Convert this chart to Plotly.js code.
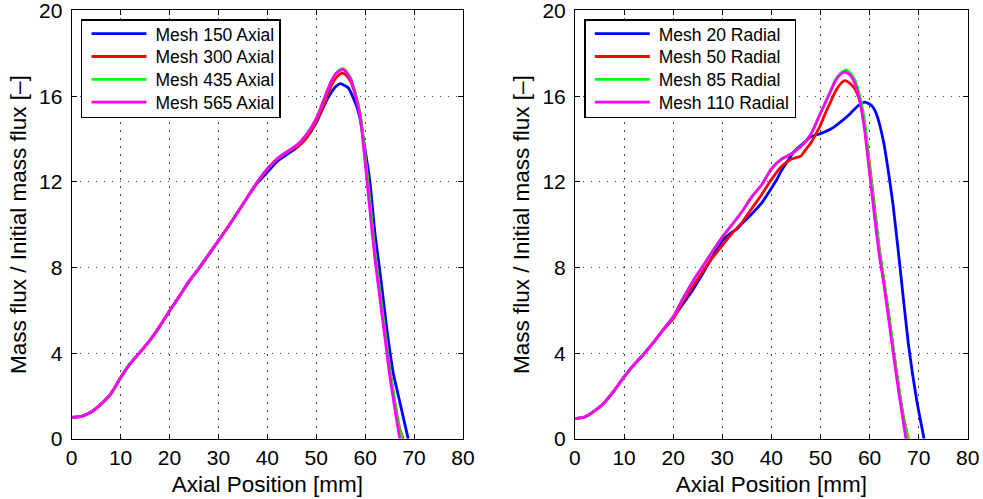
<!DOCTYPE html>
<html>
<head>
<meta charset="utf-8">
<script src="https://cdn.plot.ly/plotly-3.0.1.min.js"></script>
<style>html,body{margin:0;padding:0;background:#fff;}#chart{width:983px;height:499px;}</style>
</head>
<body>
<div id="chart"></div>
<script>
// ---- Left panel (axial mesh study) ----
const xMesh150 = [0,2,4,6,8,10,12,14,16,18,20,22,24,26,28,30,32,34,36,38,40,42,44,46,48,50,51,52,53,54,54.9,55.8,56.6,57.5,58.3,59,60,61,62,62.7,63.5,64.5,65.8,66.5,67.2,68,68.8];
const yMesh150 = [1.0,1.05,1.25,1.62,2.1,2.85,3.52,4.05,4.6,5.25,5.97,6.65,7.35,7.95,8.6,9.25,9.9,10.6,11.3,11.95,12.45,12.95,13.28,13.6,14.05,14.75,15.25,15.75,16.15,16.45,16.58,16.5,16.38,15.95,15.5,14.9,13.5,11.95,9.6,8.37,6.9,5.0,3.0,2.3,1.6,0.8,0];

const xMesh300 = [0,2,4,6,8,10,12,14,16,18,20,22,24,26,28,30,32,34,36,38,40,42,44,46,47,48,49,50,51,52,53,54,55,55.4,56,57,58,59,60,61,62,63,64,65,66,67,67.8];
const yMesh300 = [1.0,1.05,1.25,1.62,2.1,2.85,3.52,4.05,4.6,5.25,5.97,6.65,7.35,7.95,8.6,9.25,9.9,10.6,11.3,12.0,12.6,13.05,13.38,13.62,13.8,14.05,14.4,14.8,15.3,15.85,16.45,16.85,17.05,17.08,17.0,16.7,16.05,15.1,13.2,11.0,8.7,6.9,5.1,3.3,1.8,0.5,0];

const xMesh435 = [0,2,4,6,8,10,12,14,16,18,20,22,24,26,28,30,32,34,36,38,40,42,44,46,48,50,51,52,53,54,55,55.5,56,57,58,59,60,61,62,63,64,65,66,67,67.7];
const yMesh435 = [1.0,1.05,1.25,1.62,2.1,2.85,3.52,4.05,4.6,5.25,5.97,6.65,7.35,7.95,8.6,9.25,9.9,10.6,11.3,12.0,12.6,13.08,13.4,13.7,14.2,14.95,15.5,16.1,16.65,17.05,17.25,17.28,17.2,16.85,16.15,15.15,13.2,11.0,8.7,6.9,5.1,3.3,1.8,0.4,0];

const xMesh565 = [0,2,4,6,8,10,12,14,16,18,20,22,24,26,28,30,32,34,36,38,40,42,44,46,48,50,51,52,53,54,55,55.5,56,57,58,59,60,61,62,63,64,65,66,67,67.1];
const yMesh565 = [1.0,1.05,1.25,1.62,2.1,2.85,3.52,4.05,4.6,5.25,5.97,6.65,7.35,7.95,8.6,9.25,9.9,10.6,11.3,12.0,12.6,13.08,13.4,13.7,14.2,14.95,15.5,16.1,16.65,17.05,17.22,17.25,17.15,16.8,16.05,15.0,12.9,10.6,8.4,6.6,4.8,3.0,1.5,0.1,0];

// ---- Right panel (radial mesh study) ----
const xMesh20 = [0,2,4,6,8,10,12,14,16,18,20,22,24,26,28,30,32,33,34,36,38,40,41,42,43.4,44.5,46,47.2,48,50,52,54,56,57.7,59.1,60.4,61.4,62.8,63.8,64.8,66.2,67.9,69.6,71.1];
const yMesh20 = [0.94,1.02,1.3,1.7,2.25,2.89,3.45,3.95,4.5,5.1,5.65,6.3,6.95,7.7,8.5,9.25,9.65,9.8,10.05,10.5,11.0,11.7,12.06,12.5,13.0,13.38,13.7,13.93,14.1,14.25,14.45,14.78,15.17,15.56,15.72,15.56,15.17,13.93,12.53,10.9,8.02,4.44,1.8,0];

const xMesh50 = [0,2,4,6,8,10,12,14,16,18,20,22,24,26,28,30,32,34,36,38,40,42,44,46,47,48,49,50,51,52,53,54,55,56,57,58,59,60,61,62,63,64,65,66,67,67.9];
const yMesh50 = [0.94,1.02,1.3,1.7,2.25,2.89,3.45,3.95,4.5,5.1,5.6,6.4,7.1,7.8,8.45,9.03,9.6,10.1,10.75,11.4,12.1,12.7,13.05,13.2,13.5,13.8,14.2,14.65,15.2,15.7,16.2,16.55,16.72,16.6,16.34,15.8,14.6,12.8,10.8,8.8,7.2,5.6,3.9,2.3,0.9,0];

const xMesh85 = [0,2,4,6,8,10,12,14,16,18,20,22,24,26,28,30,32,34,36,38,40,42,44,46,48,50,51,52,53,54,55,55.3,56,57,58,59,60,61,62,63,64,65,66,67,67.9];
const yMesh85 = [0.94,1.02,1.3,1.7,2.25,2.89,3.45,3.95,4.5,5.1,5.7,6.55,7.35,8.05,8.75,9.42,10.0,10.6,11.3,11.85,12.6,13.05,13.3,13.65,14.2,15.2,15.7,16.2,16.75,17.05,17.2,17.22,17.1,16.75,16.0,14.8,12.7,10.7,8.8,7.3,5.7,3.9,2.3,0.8,0];

const xMesh110 = [0,2,4,6,8,10,12,14,16,18,20,22,24,26,28,30,32,34,36,38,40,42,44,46,48,50,51,52,53,54,55,56,57,58,59,60,61,62,63,64,65,66,67,67.4];
const yMesh110 = [0.94,1.02,1.3,1.7,2.25,2.89,3.45,3.95,4.5,5.1,5.7,6.55,7.35,8.05,8.75,9.42,10.0,10.6,11.3,11.85,12.6,13.05,13.3,13.65,14.2,15.2,15.7,16.2,16.7,17.0,17.12,17.0,16.6,15.8,14.4,12.4,10.4,8.55,7.1,5.4,3.7,2.1,0.6,0];

const namesLeft = ["Mesh 150 Axial","Mesh 300 Axial","Mesh 435 Axial","Mesh 565 Axial"];
const namesRight = ["Mesh 20 Radial","Mesh 50 Radial","Mesh 85 Radial","Mesh 110 Radial"];
const colors = ["#0000ff","#ff0000","#00ff00","#ff00ff"];
const xTicks = [0,10,20,30,40,50,60,70,80];
const yTicks = [0,4,8,12,16,20];

const leftX = [xMesh150,xMesh300,xMesh435,xMesh565];
const leftY = [yMesh150,yMesh300,yMesh435,yMesh565];
const rightX = [xMesh20,xMesh50,xMesh85,xMesh110];
const rightY = [yMesh20,yMesh50,yMesh85,yMesh110];

const traces = [];
for (let i = 0; i < 4; i++) {
  traces.push({x:leftX[i], y:leftY[i], name:namesLeft[i], type:'scatter', mode:'lines',
    line:{color:colors[i], width:2.8, shape:'spline', smoothing:0.5}, xaxis:'x', yaxis:'y', legend:'legend'});
}
for (let i = 0; i < 4; i++) {
  traces.push({x:rightX[i], y:rightY[i], name:namesRight[i], type:'scatter', mode:'lines',
    line:{color:colors[i], width:2.8, shape:'spline', smoothing:0.5}, xaxis:'x2', yaxis:'y2', legend:'legend2'});
}

const font = {family:'"Liberation Sans", Arial, Helvetica, sans-serif', color:'#000'};
function xa(domain, anchor) {
  return {domain:domain, anchor:anchor, range:[0,80], tickvals:xTicks, ticktext:xTicks.map(String),
    showline:true, linecolor:'#000', linewidth:1, mirror:'ticks', ticks:'inside', ticklen:5, tickcolor:'#000',
    showgrid:true, gridcolor:'#444', griddash:'1.5px,6.5px', gridwidth:1, zeroline:false,
    ticklabelstandoff:0, ticklabeloverflow:'allow',
    tickfont:Object.assign({size:21}, font),
    title:{text:'Axial Position [mm]', font:Object.assign({size:22.5}, font), standoff:8}};
}
function ya(domain, anchor) {
  return {domain:domain, anchor:anchor, range:[0,20], tickvals:yTicks, ticktext:yTicks.map(String),
    showline:true, linecolor:'#000', linewidth:1, mirror:'ticks', ticks:'inside', ticklen:5, tickcolor:'#000',
    showgrid:true, gridcolor:'#444', griddash:'1.5px,6.5px', gridwidth:1, zeroline:false,
    ticklabelstandoff:4, ticklabeloverflow:'allow',
    tickfont:Object.assign({size:21}, font),
    title:{text:'Mass flux / Initial mass flux [–]', font:Object.assign({size:22.5}, font), standoff:6}};
}
const legendStyle = {xanchor:'left', yanchor:'top', bgcolor:'#fff', bordercolor:'#000', borderwidth:1.5,
  font:Object.assign({size:17.5}, font), tracegroupgap:0, itemwidth:63};

const layout = {
  width:983, height:499,
  margin:{l:0, r:0, t:0, b:0},
  paper_bgcolor:'#fff', plot_bgcolor:'#fff',
  showlegend:true,
  xaxis: xa([0.0729,0.4710],'y'),
  yaxis: ya([0.1206,0.979],'x'),
  xaxis2: xa([0.5849,0.9845],'y2'),
  yaxis2: ya([0.1206,0.979],'x2'),
  legend: Object.assign({x:0.0824, y:0.9613}, legendStyle),
  legend2: Object.assign({x:0.5944, y:0.9613}, legendStyle)
};
function parseTranslate(el) {
  const m = /translate\(\s*([-\d.e]+)[ ,]+([-\d.e]+)/.exec(el.getAttribute('transform') || '');
  return m ? [parseFloat(m[1]), parseFloat(m[2])] : [0, 0];
}
function tidyLegends() {
  // MATLAB-style legend: longer line samples, tighter rows
  document.querySelectorAll('.legendlines path').forEach(function(p){ p.setAttribute('d','M9,0h55'); });
  document.querySelectorAll('.infolayer > g').forEach(function(lg){
    if (!/^legend/.test(lg.getAttribute('class') || '')) return;
    const items = lg.querySelectorAll('g.traces');
    if (!items.length) return;
    const t0 = parseTranslate(items[0]);
    items.forEach(function(it, i){
      const t = parseTranslate(it);
      it.setAttribute('transform', 'translate(' + t[0] + ',' + (t0[1] - 5 + i * 22.8) + ')');
    });
    const bg = lg.querySelector('rect.bg');
    if (bg) bg.setAttribute('height', 97.4);
  });
}
Plotly.newPlot('chart', traces, layout, {staticPlot:true, displayModeBar:false}).then(tidyLegends);
</script>
</body>
</html>
